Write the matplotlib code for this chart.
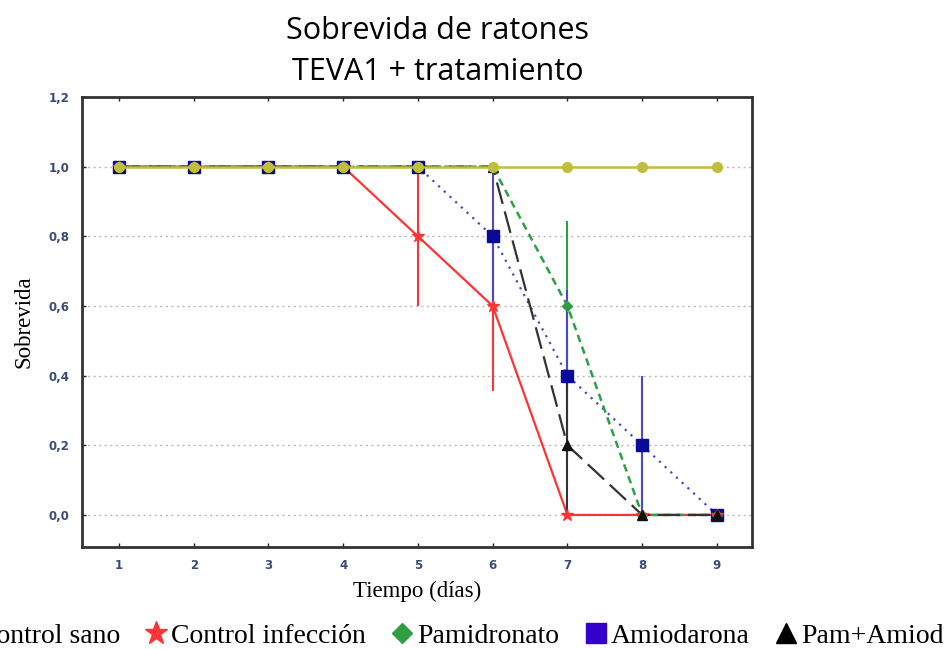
import matplotlib
matplotlib.use("Agg")
import matplotlib.pyplot as plt
from matplotlib.lines import Line2D

days = [1, 2, 3, 4, 5, 6, 7, 8, 9]
sano = [1, 1, 1, 1, 1, 1, 1, 1, 1]
infeccion = [1, 1, 1, 1, 0.8, 0.6, 0, 0, 0]
infeccion_err = [0, 0, 0, 0, 0.2, 0.245, 0, 0, 0]
pamidronato = [1, 1, 1, 1, 1, 1, 0.6, 0, 0]
pamidronato_err = [0, 0, 0, 0, 0, 0, 0.245, 0, 0]
amiodarona = [1, 1, 1, 1, 1, 0.8, 0.4, 0.2, 0]
amiodarona_err = [0, 0, 0, 0, 0, 0.2, 0.245, 0.2, 0]
pam_amiod = [1, 1, 1, 1, 1, 1, 0.2, 0, 0]
pam_amiod_err = [0, 0, 0, 0, 0, 0, 0.2, 0, 0]
labels = ["Control sano", "Control infección", "Pamidronato", "Amiodarona", "Pam+Amiod"]
yticks = [0.0, 0.2, 0.4, 0.6, 0.8, 1.0, 1.2]
ytick_labels = ["0,0", "0,2", "0,4", "0,6", "0,8", "1,0", "1,2"]

c_sano = "#bfbf3a"
c_inf = "#ff3333"
c_pam = "#2ea043"
c_ami_line = "#4a4ac8"
c_ami_mk = "#0a0a9a"
c_pa = "#111111"

fig = plt.figure(figsize=(9.45, 6.49), dpi=100)
ax = fig.add_axes([0.0868, 0.1572, 0.709, 0.6933])

serif = ["Liberation Serif", "DejaVu Serif"]

# grid
for y in yticks[:-1]:
    ax.axhline(y, color="#b8b8b8", lw=1.0, ls=(0, (1.5, 2.5)), zorder=0)

# Amiodarona
ax.errorbar(days, amiodarona, yerr=amiodarona_err,
            fmt="none", ecolor=c_ami_line, elinewidth=1.5, capsize=0, zorder=2)
ax.plot(days, amiodarona, color=c_ami_line, lw=1.6, ls=(0, (1, 2.5)), zorder=2)
ax.plot(days, amiodarona, ls="none", marker="s", ms=8, mfc=c_ami_mk, mec=c_ami_mk, zorder=5)

# Pamidronato
ax.errorbar(days, pamidronato, yerr=pamidronato_err, fmt="none", ecolor=c_pam,
            elinewidth=1.5, capsize=0, zorder=1.5)
ax.plot(days, pamidronato, color=c_pam, lw=1.8, ls=(0, (3, 2)), zorder=2.5)
ax.plot(days, pamidronato, ls="none", marker="D", ms=5, mfc=c_pam, mec=c_pam, zorder=5)

# Control infeccion
ax.errorbar(days, infeccion, yerr=infeccion_err, fmt="none", ecolor=c_inf,
            elinewidth=1.5, capsize=0, zorder=1.8)
ax.plot(days, infeccion, color=c_inf, lw=1.6, zorder=2.2)
ax.plot(days, infeccion, ls="none", marker="*", ms=9, mfc=c_inf, mec=c_inf, zorder=5)

# Pam+Amiod
ax.errorbar(days, pam_amiod, yerr=pam_amiod_err, fmt="none", ecolor="#333333",
            elinewidth=1.5, capsize=0, zorder=3)
ax.plot(days, pam_amiod, color="#333333", lw=1.6, ls=(0, (10, 3.5)), zorder=3)
ax.plot(days, pam_amiod, ls="none", marker="^", ms=7, mfc=c_pa, mec=c_pa, zorder=5.5)

# Control sano
ax.plot(days, sano, color=c_sano, lw=1.8, marker="o", ms=7, mfc=c_sano, mec=c_sano, zorder=6)

ax.set_xlim(0.505, 9.47)
ax.set_ylim(-0.092, 1.2)
ax.set_xticks(days)
ax.set_xticklabels([str(d) for d in days])
ax.set_yticks(yticks)
ax.set_yticklabels(ytick_labels)
ax.tick_params(direction="in", length=3, width=1, top=True, right=False,
               labelsize=8.5, colors="#222222", pad=9)
for lab in ax.get_xticklabels() + ax.get_yticklabels():
    lab.set_color("#3a4a7a")
    lab.set_fontweight("bold")
for s in ax.spines.values():
    s.set_linewidth(2.0)
    s.set_color("#333333")

ax.set_xlabel("Tiempo (días)", fontsize=16.5, family=serif, labelpad=6)
ax.set_ylabel("Sobrevida", fontsize=16.5, family=serif, labelpad=10)

fig.text(0.463, 0.921, "Sobrevida de ratones\nTEVA1 + tratamiento", ha="center", va="center",
         fontsize=22, family=["Open Sans", "DejaVu Sans"], linespacing=1.5)

handles = [
    Line2D([], [], ls="none", marker="o", ms=12, mfc=c_sano, mec=c_sano),
    Line2D([], [], ls="none", marker="*", ms=17, mfc=c_inf, mec=c_inf),
    Line2D([], [], ls="none", marker="D", ms=10, mfc=c_pam, mec=c_pam),
    Line2D([], [], ls="none", marker="s", ms=14, mfc="#3300cc", mec="#3300cc"),
    Line2D([], [], ls="none", marker="^", ms=14, mfc="black", mec="black"),
]
fig.legend(handles, labels, loc="center", bbox_to_anchor=(0.472, 0.02), ncol=5,
           frameon=False, prop={"family": serif, "size": 20}, handletextpad=0.05,
           columnspacing=0.8, handlelength=1.0)

fig.savefig("out.png", dpi=100)
